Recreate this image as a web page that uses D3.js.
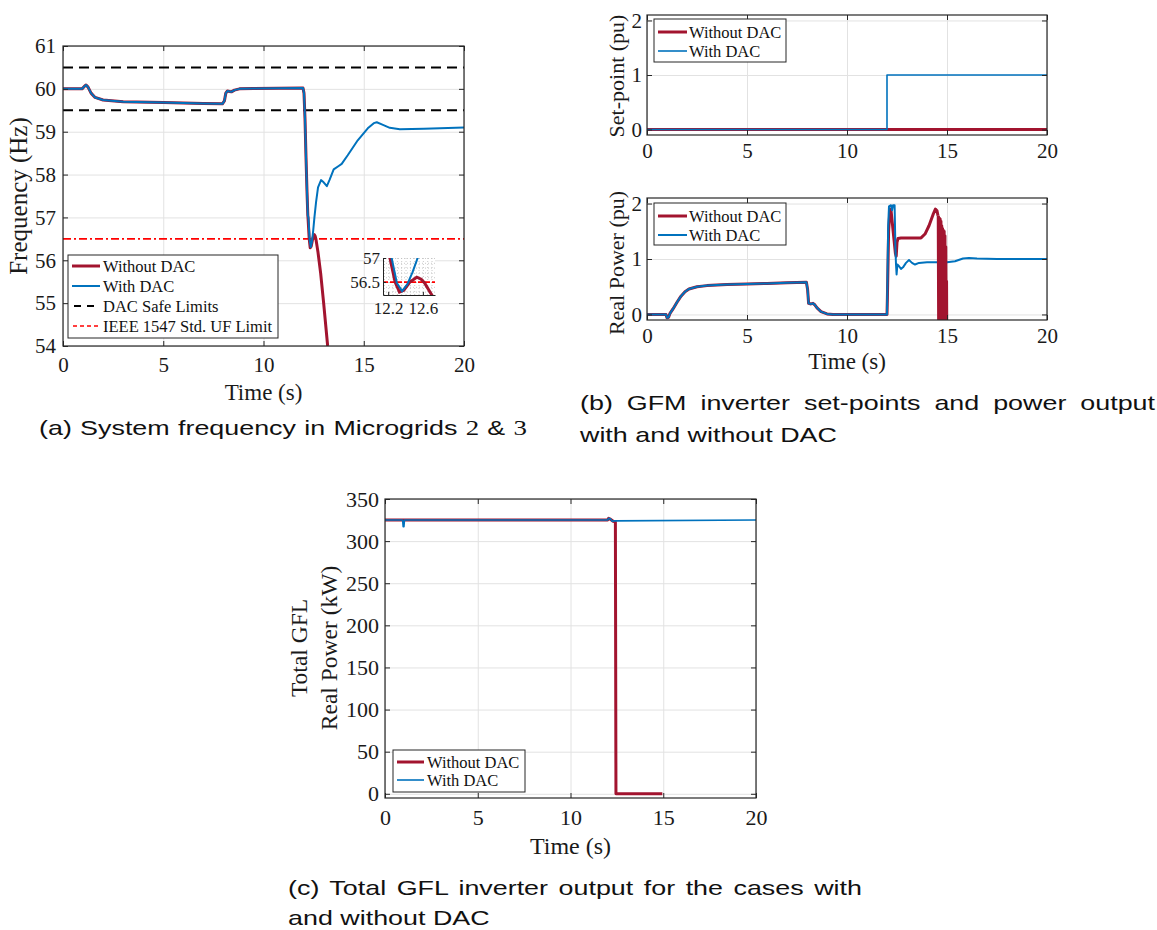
<!DOCTYPE html>
<html><head><meta charset="utf-8">
<script src="https://cdn.jsdelivr.net/npm/d3@7"></script>
<style>
body{margin:0;background:#fff;}
svg{display:block;}
</style></head><body>
<svg id="c" width="1157" height="930"></svg>
<script>
// ---------------- DATA ----------------
const timeTicks = [0, 5, 10, 15, 20];
// (a) frequency
const freqTicks = [54, 55, 56, 57, 58, 59, 60, 61];
const safeLimits = [59.5, 60.5];
const ufLimit = 56.5;
const freqCommon = [[0,60.0],[0.95,60.0],[1.05,60.05],[1.15,60.09],[1.25,60.04],[1.4,59.9],[1.6,59.8],[2.0,59.74],[3,59.7],[5,59.68],[7,59.66],[7.95,59.65],[8.05,59.72],[8.12,59.9],[8.2,59.95],[8.3,59.94],[8.4,59.93],[8.55,59.97],[8.8,60.0],[9.5,60.01],[11.97,60.02],[12.02,59.9],[12.07,59.3],[12.12,58.4],[12.17,57.6],[12.21,57.05]];
const freqWithTail = [[12.24,57.0],[12.3,56.48],[12.36,56.31],[12.42,56.45],[12.48,56.7],[12.54,57.0],[12.62,57.35],[12.72,57.7],[12.87,57.87],[13.0,57.82],[13.16,57.73],[13.3,57.88],[13.5,58.12],[13.75,58.2],[13.9,58.25],[14.2,58.45],[14.7,58.8],[15.2,59.08],[15.5,59.2],[15.65,59.22],[15.9,59.17],[16.3,59.09],[16.8,59.06],[18,59.07],[20,59.1]];
const freqWithoutTail = [[12.22,57.0],[12.28,56.5],[12.33,56.29],[12.38,56.33],[12.45,56.5],[12.53,56.6],[12.58,56.56],[12.62,56.48],[12.67,56.33],[12.72,56.18],[12.85,55.7],[13.0,55.0],[13.2,54.0],[13.3,53.6]];
const insetXTicks = [12.2, 12.6];
const insetYTicks = [56.5, 57];
const insetGridX = [12.15,12.2,12.25,12.3,12.35,12.4,12.45,12.5,12.55,12.6,12.65,12.7];
const insetGridY = [56.3,56.4,56.5,56.6,56.7,56.8,56.9,57.0];
// (b) GFM set-points and power
const puTicks = [0, 1, 2];
const setpointWithout = [[0,0],[20,0]];
const setpointWith = [[0,0],[12,0],[12,1],[20,1]];
const powerCommon = [[0,0],[0.95,0],[1.0,-0.06],[1.08,-0.05],[1.15,0.02],[1.3,0.1],[1.5,0.22],[1.7,0.33],[1.9,0.41],[2.1,0.46],[2.5,0.5],[3,0.52],[4,0.54],[5,0.55],[6,0.56],[7,0.57],[7.97,0.58],[8.03,0.45],[8.08,0.2],[8.2,0.19],[8.3,0.2],[8.4,0.17],[8.5,0.12],[8.7,0.05],[9.0,0.01],[9.3,0.0],[12.0,0.0]];
const powerWithTail = [[12.02,0.5],[12.06,1.6],[12.1,1.95],[12.2,1.97],[12.25,1.88],[12.3,1.97],[12.38,1.97],[12.42,1.2],[12.45,0.9],[12.48,0.72],[12.52,0.9],[12.6,0.87],[12.7,0.82],[12.8,0.85],[12.95,0.93],[13.1,0.98],[13.25,0.93],[13.4,0.9],[13.6,0.93],[14,0.94],[15,0.94],[15.4,0.96],[15.8,1.01],[16.1,1.02],[16.5,1.01],[17.5,1.0],[20,1.0]];
const powerWithoutTail = [[12.02,0.3],[12.08,1.5],[12.15,1.9],[12.2,1.88],[12.28,1.6],[12.35,1.35],[12.42,1.1],[12.46,1.05],[12.5,1.3],[12.55,1.37],[12.7,1.38],[13.7,1.38],[13.9,1.45],[14.1,1.6],[14.3,1.8],[14.42,1.9],[14.5,1.87],[14.55,1.78]];
const powerWithoutOsc = [[14.55,1.78],[14.57,-0.2],[14.59,1.76],[14.61,-0.2],[14.63,1.74],[14.65,-0.2],[14.67,1.72],[14.69,-0.2],[14.71,1.68],[14.73,-0.2],[14.75,1.6],[14.77,-0.2],[14.79,1.55],[14.81,-0.2],[14.83,1.52],[14.85,-0.2],[14.87,1.5],[14.89,-0.2],[14.91,1.42],[14.93,-0.2],[14.95,1.22],[14.97,-0.2],[14.99,0.6],[15.0,-0.2]];
// (c) total GFL power
const kwTicks = [0, 50, 100, 150, 200, 250, 300, 350];
const gflWithout = [[0,325],[12.0,325],[12.05,327],[12.15,326],[12.3,323.5],[12.42,323],[12.45,0],[14.95,0]];
const gflWith = [[0,325],[0.95,325],[0.98,317],[1.02,317],[1.05,325],[12.0,325],[12.05,327],[12.15,326.5],[12.25,323.5],[12.4,324],[20,325]];

// ---------------- DRAWING ----------------
const svg = d3.select("#c");
const serif = '"Liberation Serif","Times New Roman",serif';
const sans = '"Liberation Sans",Arial,Helvetica,sans-serif';
const RED = "#A2142F", BLUE = "#0072BD", AX = "#262626", GRID = "#e2e2e2";
svg.append("rect").attr("width",1157).attr("height",930).attr("fill","#fff");

let clipN = 0;
function panel(c){
  const x = d3.scaleLinear().domain(c.xd).range([c.l, c.r]);
  const y = d3.scaleLinear().domain(c.yd).range([c.b, c.t]);
  const g = svg.append("g");
  const H = c.b - c.t, W = c.r - c.l;
  g.append("g").attr("transform",`translate(0,${c.b})`)
    .call(d3.axisBottom(x).tickValues(c.xt).tickSize(-H).tickFormat(""))
    .call(s=>{s.select(".domain").remove(); s.selectAll("line").attr("stroke",GRID).attr("stroke-width",1);});
  g.append("g").attr("transform",`translate(${c.l},0)`)
    .call(d3.axisLeft(y).tickValues(c.yt).tickSize(-W).tickFormat(""))
    .call(s=>{s.select(".domain").remove(); s.selectAll("line").attr("stroke",GRID).attr("stroke-width",1);});
  const id = "clip" + (clipN++);
  svg.append("clipPath").attr("id",id).append("rect").attr("x",c.l).attr("y",c.t).attr("width",W).attr("height",H);
  const plot = g.append("g").attr("clip-path",`url(#${id})`);
  const line = d3.line().x(d=>x(d[0])).y(d=>y(d[1]));
  return {c, x, y, g, plot, line};
}
function frame(p){
  const c = p.c, g = p.g;
  const style = s=>{s.attr("font-family",serif).attr("font-size",c.fs);
    s.select(".domain").remove(); s.selectAll("line").attr("stroke",AX).attr("stroke-width",1);
    s.selectAll("text").attr("font-family",serif).attr("font-size",c.fs).attr("fill","#1a1a1a");};
  g.append("g").attr("transform",`translate(0,${c.b})`)
    .call(d3.axisBottom(p.x).tickValues(c.xt).tickSize(-5).tickPadding(c.xpad).tickFormat(d3.format("d"))).call(style);
  g.append("g").attr("transform",`translate(0,${c.t})`)
    .call(d3.axisTop(p.x).tickValues(c.xt).tickSize(-5).tickFormat("")).call(style);
  g.append("g").attr("transform",`translate(${c.l},0)`)
    .call(d3.axisLeft(p.y).tickValues(c.yt).tickSize(-5).tickPadding(c.ypad).tickFormat(d3.format("d"))).call(style);
  g.append("g").attr("transform",`translate(${c.r},0)`)
    .call(d3.axisRight(p.y).tickValues(c.yt).tickSize(-5).tickFormat("")).call(style);
  g.append("rect").attr("x",c.l).attr("y",c.t).attr("width",c.r-c.l).attr("height",c.b-c.t)
    .attr("fill","none").attr("stroke",AX).attr("stroke-width",1.2);
}
function drawLine(p, data, color, w, dash, layer){
  (layer||p.plot).append("path").datum(data).attr("d",p.line).attr("fill","none")
    .attr("stroke",color).attr("stroke-width",w).attr("stroke-dasharray",dash||null)
    .attr("stroke-linejoin","round");
}
function legend(x0, y0, w, h, items, lx0, lx1, tx){
  const g = svg.append("g");
  g.append("rect").attr("x",x0).attr("y",y0).attr("width",w).attr("height",h)
    .attr("fill","#fff").attr("stroke",AX).attr("stroke-width",1);
  items.forEach(it=>{
    g.append("line").attr("x1",it.x1||lx0).attr("x2",it.x2||lx1).attr("y1",it.y).attr("y2",it.y)
      .attr("stroke",it.color).attr("stroke-width",it.w).attr("stroke-dasharray",it.dash||null);
    g.append("text").attr("x",tx).attr("y",it.y).attr("dy","0.34em").attr("font-family",serif)
      .attr("font-size",16.5).attr("fill","#111").text(it.label);
  });
}
function label(x, y, text, size, rot){
  const t = svg.append("text").attr("font-family",serif).attr("font-size",size).attr("fill","#1a1a1a")
    .attr("text-anchor","middle").text(text);
  if (rot) t.attr("transform",`translate(${x},${y}) rotate(-90)`).attr("dy","0.3em");
  else t.attr("x",x).attr("y",y);
  return t;
}
const SX = 1.28;
function caption(x, y, parts, width){
  const g = svg.append("g").attr("transform",`translate(${x},${y}) scale(${SX},1)`);
  const t = g.append("text").attr("x",0).attr("y",0).attr("font-family",sans).attr("font-size",21).attr("fill","#111");
  parts.forEach(p=>t.append("tspan").attr("font-family",p.serif?serif:null).text(p.text));
  if (width){
    const L = t.node().getComputedTextLength();
    const n = parts.map(p=>p.text).join("").split(" ").length - 1;
    const ws = (width/SX - L)/n;
    if (ws > 0) t.attr("word-spacing", ws);
  }
}

// ---- (a)
const A = panel({l:63, r:464, t:46, b:346, xd:[0,20], yd:[54,61], xt:timeTicks, yt:freqTicks, fs:21, xpad:11, ypad:7});
safeLimits.forEach(v=>A.plot.append("line").attr("x1",A.x(0)).attr("x2",A.x(20)).attr("y1",A.y(v)).attr("y2",A.y(v))
  .attr("stroke","#000").attr("stroke-width",2).attr("stroke-dasharray","10,6"));
A.plot.append("line").attr("x1",A.x(0)).attr("x2",A.x(20)).attr("y1",A.y(ufLimit)).attr("y2",A.y(ufLimit))
  .attr("stroke","#ff0000").attr("stroke-width",1.8).attr("stroke-dasharray","8,3,2,3");
drawLine(A, freqCommon.concat(freqWithoutTail), RED, 3);
drawLine(A, freqCommon.concat(freqWithTail), BLUE, 2);
frame(A);
label(263.5, 400, "Time (s)", 23);
label(19, 196, "Frequency (Hz)", 25, true);
legend(68, 255, 210, 83, [
  {label:"Without DAC", color:RED, w:3, y:266},
  {label:"With DAC", color:BLUE, w:2, y:286},
  {label:"DAC Safe Limits", color:"#000", w:2, dash:"7,6", y:306, x1:74, x2:94},
  {label:"IEEE 1547 Std. UF Limit", color:"#ff0000", w:1.5, dash:"4,3", y:326, x1:73, x2:100}
], 72, 100, 103);

// inset
(function(){
  const c = {l:383, r:435, t:258, b:295, xd:[12.14,12.74], yd:[56.23,57]};
  const x = d3.scaleLinear().domain(c.xd).range([c.l,c.r]);
  const y = d3.scaleLinear().domain(c.yd).range([c.b,c.t]);
  const g = svg.append("g");
  g.append("rect").attr("x",c.l).attr("y",c.t).attr("width",c.r-c.l).attr("height",c.b-c.t).attr("fill","#fff");
  const gs = s=>{s.select(".domain").remove(); s.selectAll("line").attr("stroke","#bdbdbd").attr("stroke-width",0.8).attr("stroke-dasharray","1,2");};
  g.append("g").attr("transform",`translate(0,${c.b})`).call(d3.axisBottom(x).tickValues(insetGridX).tickSize(-(c.b-c.t)).tickFormat("")).call(gs);
  g.append("g").attr("transform",`translate(${c.l},0)`).call(d3.axisLeft(y).tickValues(insetGridY).tickSize(-(c.r-c.l)).tickFormat("")).call(gs);
  svg.append("clipPath").attr("id","clipInset").append("rect").attr("x",c.l).attr("y",c.t).attr("width",c.r-c.l).attr("height",c.b-c.t);
  const plot = g.append("g").attr("clip-path","url(#clipInset)");
  const line = d3.line().x(d=>x(d[0])).y(d=>y(d[1]));
  plot.append("line").attr("x1",c.l).attr("x2",c.r).attr("y1",y(ufLimit)).attr("y2",y(ufLimit))
    .attr("stroke","#ff0000").attr("stroke-width",1.8).attr("stroke-dasharray","5,2");
  plot.append("path").datum(freqCommon.concat(freqWithoutTail)).attr("d",line).attr("fill","none").attr("stroke",RED).attr("stroke-width",3);
  plot.append("path").datum(freqCommon.concat(freqWithTail)).attr("d",line).attr("fill","none").attr("stroke",BLUE).attr("stroke-width",2);
  const st = s=>{s.attr("font-family",serif).attr("font-size",17);
    s.select(".domain").attr("stroke","#222").attr("stroke-width",1); s.selectAll("line").attr("stroke","#222");
    s.selectAll("text").attr("font-family",serif).attr("font-size",17).attr("fill","#1a1a1a");};
  g.append("g").attr("transform",`translate(0,${c.b})`).call(d3.axisBottom(x).tickValues(insetXTicks).tickSize(-3).tickSizeOuter(0).tickPadding(7).tickFormat(d3.format(".1f"))).call(st);
  g.append("g").attr("transform",`translate(${c.l},0)`).call(d3.axisLeft(y).tickValues(insetYTicks).tickSize(-3).tickSizeOuter(0).tickPadding(3).tickFormat(d=>d===57?"57":"56.5")).call(st);
})();

// ---- (b) top
const B1 = panel({l:647, r:1047, t:15, b:135, xd:[0,20], yd:[-0.1,2.1], xt:timeTicks, yt:puTicks, fs:21, xpad:8, ypad:5});
drawLine(B1, setpointWithout, RED, 3);
drawLine(B1, setpointWith, BLUE, 1.6);
frame(B1);
label(617, 76, "Set-point (pu)", 22, true);
legend(654, 19, 132, 43, [
  {label:"Without DAC", color:RED, w:3, y:32},
  {label:"With DAC", color:BLUE, w:1.6, y:51}
], 658, 687, 689);

// ---- (b) bottom
const B2 = panel({l:647, r:1047, t:198, b:320, xd:[0,20], yd:[-0.1,2.1], xt:timeTicks, yt:puTicks, fs:21, xpad:8, ypad:5});
drawLine(B2, powerCommon.concat(powerWithoutTail), RED, 3);
drawLine(B2, powerCommon.concat(powerWithTail), BLUE, 2);
drawLine(B2, powerWithoutOsc, RED, 2.5);
frame(B2);
label(847, 369, "Time (s)", 23);
label(617, 263, "Real Power (pu)", 22, true);
legend(654, 203, 132, 42, [
  {label:"Without DAC", color:RED, w:3, y:216},
  {label:"With DAC", color:BLUE, w:2, y:235}
], 658, 687, 689);

// ---- (c)
const C = panel({l:385, r:756, t:499, b:798, xd:[0,20], yd:[-5,350], xt:timeTicks, yt:kwTicks, fs:22, xpad:11, ypad:6});
drawLine(C, gflWithout, RED, 3);
drawLine(C, gflWith, BLUE, 1.6);
frame(C);
label(570.5, 854, "Time (s)", 24);
label(300, 648, "Total GFL", 23.5, true);
label(330, 648, "Real Power (kW)", 23.5, true);
legend(393, 750, 132, 42, [
  {label:"Without DAC", color:RED, w:3, y:762},
  {label:"With DAC", color:BLUE, w:1.6, y:780}
], 397, 424, 427);

// ---- captions
caption(39, 435, [{text:"(a) System frequency in Microgrids "},{text:"2",serif:true},{text:" & "},{text:"3",serif:true}], 488);
caption(580, 410, [{text:"(b) GFM inverter set-points and power output"}], 575);
caption(580, 442, [{text:"with and without DAC"}]);
caption(288, 895, [{text:"(c) Total GFL inverter output for the cases with"}], 574);
caption(288, 925, [{text:"and without DAC"}]);
</script>
</body></html>
